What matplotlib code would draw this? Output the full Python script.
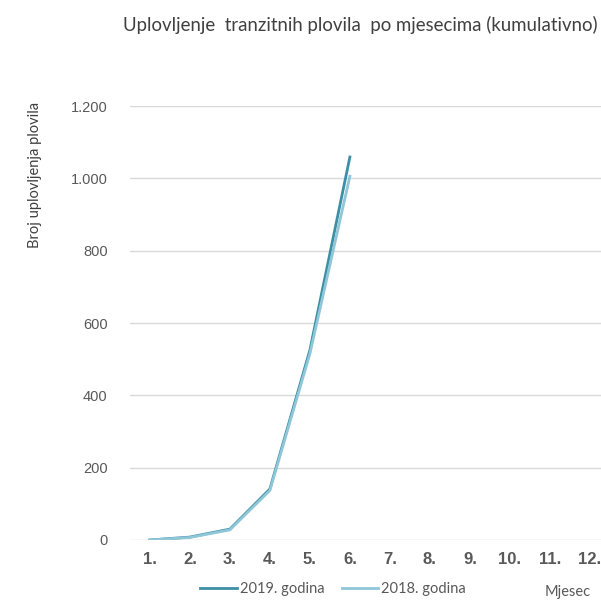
import matplotlib.pyplot as plt
from matplotlib.ticker import FuncFormatter

# Data
months = [1, 2, 3, 4, 5, 6]
month_labels = ["1.", "2.", "3.", "4.", "5.", "6.", "7.", "8.", "9.", "10.", "11.", "12."]
god_2019 = [0, 8, 30, 141, 525, 1059]
god_2018 = [0, 7, 28, 137, 515, 1006]

fig = plt.figure(figsize=(6.01, 6.01), dpi=100)
ax = fig.add_axes([0.216, 0.1015, 0.784, 0.7221])

ax.plot(months, god_2019, color="#3d8fa5", linewidth=2.0, label="2019. godina", zorder=3)
ax.plot(months, god_2018, color="#8fc6d8", linewidth=2.0, label="2018. godina", zorder=4)

ax.set_xlim(0.5, 12.275)
ax.set_ylim(0, 1200)
ax.set_yticks(range(0, 1201, 200))
ax.yaxis.set_major_formatter(FuncFormatter(lambda v, p: f"{int(v):,}".replace(",", ".")))
ax.set_xticks(range(1, 13))
ax.set_xticklabels(month_labels, fontweight="bold", fontsize=12, color="#595959",
                   family="Liberation Sans")
ax.tick_params(axis="x", length=0, pad=9)
ax.tick_params(axis="y", length=0, pad=16, labelsize=10.5, labelcolor="#595959")
for lbl in ax.get_yticklabels():
    lbl.set_family("Liberation Sans")

ax.grid(axis="y", color="#d9d9d9", linewidth=1)
ax.set_axisbelow(True)
for s in ax.spines.values():
    s.set_visible(False)

fig.text(598 / 601, 1 - 25 / 601, "Uplovljenje  tranzitnih plovila  po mjesecima (kumulativno)",
         ha="right", va="center", fontsize=13.4, color="#404040", family="Lato")
fig.text(35 / 601, 1 - 175 / 601, "Broj uplovljenja plovila", rotation=90,
         ha="center", va="center", fontsize=10.5, color="#404040", family="Lato")
fig.text(568 / 601, 1 - 592 / 601, "Mjesec", ha="center", va="center",
         fontsize=10.5, color="#595959", family="Lato")

fig.legend(loc="center", bbox_to_anchor=(333 / 601, 1 - 589 / 601), ncol=2, frameon=False,
           handlelength=2.5, columnspacing=1.2, handletextpad=0.2,
           prop={"family": "Lato", "size": 10.5})
for t in fig.legends[0].get_texts():
    t.set_color("#595959")

fig.savefig("out.png", dpi=100)
